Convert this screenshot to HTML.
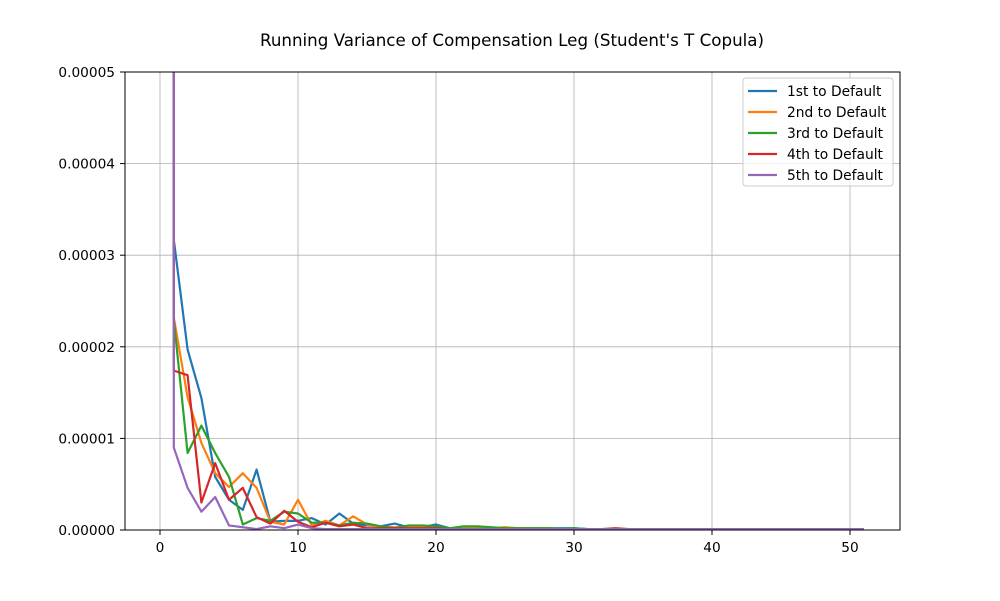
<!DOCTYPE html>
<html><head><meta charset="utf-8"><style>
body{margin:0;background:#fff}
svg{font-family:"DejaVu Sans","Liberation Sans",sans-serif}
</style></head><body>
<svg id="chart" width="1000" height="596" xmlns="http://www.w3.org/2000/svg">
<rect width="1000" height="596" fill="#fff"/>
<text x="512" y="46" text-anchor="middle" font-size="16.7">Running Variance of Compensation Leg (Student's T Copula)</text>
<defs><clipPath id="clip"><rect x="125" y="72" width="775" height="458"/></clipPath></defs>
<g id="grid"></g>
<g id="lines" clip-path="url(#clip)"></g>
<rect x="125" y="72" width="775" height="458" fill="none" stroke="#000" stroke-width="1"/>
<g id="ticks"></g>
<g id="legend"></g>
</svg>
<script>
const xTicks=[0,10,20,30,40,50];
const yTicks=[0,0.00001,0.00002,0.00003,0.00004,0.00005];
const yTickLabels=["0.00000","0.00001","0.00002","0.00003","0.00004","0.00005"];
const seriesNames=["1st to Default","2nd to Default","3rd to Default","4th to Default","5th to Default"];
// values in units of 1e-6, first entry is the initial (off-scale) value at x=1, then x=1..51
const s1=[500,31.7,19.7,14.4,5.8,3.3,2.2,6.6,0.9,1.0,1.0,1.3,0.6,1.8,0.7,0.5,0.4,0.7,0.3,0.3,0.6,0.2,0.2,0.2,0.2,0.2,0.2,0.2,0.2,0.2,0.2,0.1,0.1,0.1,0.1,0.1,0.1,0.1,0.1,0.1,0.1,0.1,0.1,0.1,0.1,0.1,0.1,0.1,0.1,0.1,0.1,0.1];
const s2=[500,23.2,14.5,9.5,6.2,4.7,6.2,4.6,0.9,0.6,3.3,0.5,1.0,0.5,1.5,0.6,0.3,0.3,0.3,0.3,0.2,0.2,0.2,0.2,0.2,0.3,0.2,0.2,0.2,0.1,0.1,0.1,0.1,0.1,0.1,0.1,0.1,0.1,0.1,0.1,0.1,0.1,0.1,0.1,0.1,0.1,0.1,0.1,0.1,0.1,0.1,0.1];
const s3=[500,23,8.4,11.4,8.4,5.8,0.6,1.3,1.0,2.0,1.8,0.8,0.8,0.5,0.8,0.7,0.4,0.2,0.5,0.5,0.4,0.2,0.4,0.4,0.3,0.2,0.2,0.2,0.2,0.1,0.2,0.1,0.1,0.1,0.1,0.1,0.1,0.1,0.1,0.1,0.1,0.1,0.1,0.1,0.1,0.1,0.1,0.1,0.1,0.1,0.1,0.1];
const s4=[500,17.4,16.9,3.0,7.3,3.3,4.6,1.4,0.7,2.1,0.9,0.3,0.8,0.4,0.6,0.2,0.2,0.2,0.2,0.2,0.2,0.1,0.1,0.1,0.1,0.1,0.1,0.1,0.1,0.1,0.1,0.1,0.1,0.2,0.1,0.1,0.1,0.1,0.1,0.1,0.1,0.1,0.1,0.1,0.1,0.1,0.1,0.1,0.1,0.1,0.1,0.1];
const s5=[500,9.0,4.6,2.0,3.6,0.5,0.3,0.1,0.4,0.2,0.6,0.2,0.1,0.1,0.1,0.1,0.1,0.1,0.1,0.1,0.1,0.1,0.1,0.1,0.1,0.1,0.1,0.1,0.1,0.1,0.1,0.1,0.1,0.1,0.1,0.1,0.1,0.1,0.1,0.1,0.1,0.1,0.1,0.1,0.1,0.1,0.1,0.1,0.1,0.1,0.1,0.1];
const colors=["#1f77b4","#ff7f0e","#2ca02c","#d62728","#9467bd"];
const NS="http://www.w3.org/2000/svg";
const X=v=>160+v*13.8;
const Y=v=>530-v/0.00005*458;
function mk(tag,attrs,parent){const e=document.createElementNS(NS,tag);for(const k in attrs)e.setAttribute(k,attrs[k]);parent.appendChild(e);return e;}
const grid=document.getElementById('grid'),ticks=document.getElementById('ticks'),lines=document.getElementById('lines'),legend=document.getElementById('legend');
xTicks.forEach(t=>{
  const g=mk('line',{x1:X(t),x2:X(t),y1:72,y2:530,stroke:'#b0b0b0','stroke-width':0.8},grid);
  
  
  mk('line',{x1:X(t),x2:X(t),y1:530,y2:535,stroke:'#000'},ticks);
  const l=mk('text',{x:X(t),y:552,'text-anchor':'middle','font-size':13.7},ticks);
  l.textContent=t;
  
  
});
yTicks.forEach((t,i)=>{
  const g=mk('line',{x1:125,x2:900,y1:Y(t),y2:Y(t),stroke:'#b0b0b0','stroke-width':0.8},grid);
  
  
  mk('line',{x1:120,x2:125,y1:Y(t),y2:Y(t),stroke:'#000'},ticks);
  const l=mk('text',{x:115,y:Y(t)+5,'text-anchor':'end','font-size':13.7},ticks);
  l.textContent=yTickLabels[i];
  
  
});
[s1,s2,s3,s4,s5].forEach((s,k)=>{
  const pts=s.map((v,i)=>X(i===0?1:i)+','+Y(v*1e-6)).join(' ');
  const p=mk('polyline',{points:pts,fill:'none',stroke:colors[k],'stroke-width':2.2,'stroke-linejoin':'round'},lines);
  
  
});
const lb=mk('rect',{x:743,y:78,width:150,height:108,fill:'#fff','fill-opacity':0.8,stroke:'#ccc',rx:3},legend);


seriesNames.forEach((n,k)=>{
  const y=91+k*21;
  mk('line',{x1:748,x2:777,y1:y,y2:y,stroke:colors[k],'stroke-width':2.2},legend);
  const t=mk('text',{x:787,y:y+5,'font-size':13.8},legend);
  t.textContent=n;
  
  
});
</script>
</body></html>
